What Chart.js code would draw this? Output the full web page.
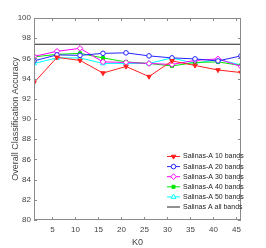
<!DOCTYPE html>
<html>
<head>
<meta charset="utf-8">
<script src="https://cdn.jsdelivr.net/npm/chart.js@4"></script>
<style>
  html, body { margin: 0; padding: 0; background: #fff; }
  #wrap { width: 266px; height: 248px; }
</style>
</head>
<body>
<div id="wrap"><canvas id="myChart" width="266" height="248"></canvas></div>
<script>
// valores
const k0 = [1, 6, 11, 16, 21, 26, 31, 36, 41, 46];
const bands10 = [93.6, 96.1, 95.8, 94.55, 95.2, 94.2, 95.75, 95.3, 94.85, 94.6];
const bands20 = [95.75, 96.35, 96.3, 96.5, 96.55, 96.25, 96.05, 95.95, 95.75, 96.25];
const bands30 = [96.2, 96.7, 97.0, 95.65, 95.6, 95.5, 95.4, 95.8, 95.95, 95.2];
const bands40 = [96.15, 96.4, 96.5, 96.05, 95.65, 95.5, 95.25, 95.6, 95.65, 95.3];
const bands50 = [95.5, 96.05, 96.05, 95.5, 95.5, 95.5, 96.05, 95.5, 95.9, 95.35];
const allBands = 97.4;
const legendas = ['Salinas-A 10 bands', 'Salinas-A 20 bands', 'Salinas-A 30 bands',
                  'Salinas-A 40 bands', 'Salinas-A 50 bands', 'Salinas A all bands'];
const xTicks = [5, 10, 15, 20, 25, 30, 35, 40, 45];
const yTicks = [80, 82, 84, 86, 88, 90, 92, 94, 96, 98, 100];

const fonte = "'Liberation Sans Narrow', 'Liberation Sans', Arial, sans-serif";

function pontos(vals) {
  return k0.map((x, i) => ({ x: x, y: vals[i] }));
}

// caixa + ticks para dentro (estilo matlab)
const caixa = {
  id: 'caixa',
  afterDatasetsDraw(chart) {
    const c = chart.ctx, a = chart.chartArea;
    const xs = chart.scales.x, ys = chart.scales.y;
    c.save();
    c.strokeStyle = '#8a8a8a';
    c.lineWidth = 1;
    c.strokeRect(a.left + 0.5, a.top + 0.5, a.right - a.left - 1, a.bottom - a.top - 1);
    c.beginPath();
    xTicks.forEach(v => {
      const p = Math.round(xs.getPixelForValue(v)) + 0.5;
      c.moveTo(p, a.bottom); c.lineTo(p, a.bottom - 3);
      c.moveTo(p, a.top); c.lineTo(p, a.top + 3);
    });
    yTicks.forEach(v => {
      const p = Math.round(ys.getPixelForValue(v)) + 0.5;
      c.moveTo(a.left, p); c.lineTo(a.left + 3, p);
      c.moveTo(a.right, p); c.lineTo(a.right - 3, p);
    });
    c.stroke();

    // legenda dentro do grafico
    const x0 = 167, x1 = 180;
    let y = 156;
    c.font = '7px ' + fonte;
    c.textBaseline = 'middle';
    chart.data.datasets.forEach(ds => {
      c.strokeStyle = ds.borderColor;
      c.lineWidth = 1;
      c.beginPath(); c.moveTo(x0, y + 0.5); c.lineTo(x1, y + 0.5); c.stroke();
      if (ds.pointRadius > 0) {
        c.fillStyle = ds.pointBackgroundColor;
        c.strokeStyle = ds.borderColor;
        Chart.helpers.drawPoint(c, {
          pointStyle: ds.pointStyle, rotation: ds.pointRotation || 0,
          radius: ds.pointRadius, borderWidth: 1
        }, (x0 + x1) / 2, y + 0.5);
      }
      c.fillStyle = '#222';
      c.fillText(ds.label, x1 + 3, y + 0.5);
      y += 10.1;
    });
    c.restore();
  }
};

const ctx = document.getElementById('myChart').getContext('2d');

const myChart = new Chart(ctx, {
  type: 'line',
  data: {
    datasets: [
      { label: legendas[0], data: pontos(bands10), borderColor: '#ff2020', backgroundColor: '#ff2020',
        pointBackgroundColor: '#ff2020', pointStyle: 'triangle', pointRotation: 180, pointRadius: 2.6 },
      { label: legendas[1], data: pontos(bands20), borderColor: '#2424ff', backgroundColor: '#ffffff',
        pointBackgroundColor: '#ffffff', pointStyle: 'circle', pointRadius: 2.3 },
      { label: legendas[2], data: pontos(bands30), borderColor: '#ff00ff', backgroundColor: '#ffffff',
        pointBackgroundColor: '#ffffff', pointStyle: 'rectRot', pointRadius: 2.8 },
      { label: legendas[3], data: pontos(bands40), borderColor: '#00e600', backgroundColor: '#00e600',
        pointBackgroundColor: '#00e600', pointStyle: 'rect', pointRadius: 2.2 },
      { label: legendas[4], data: pontos(bands50), borderColor: '#00ffff', backgroundColor: '#ffffff',
        pointBackgroundColor: '#ffffff', pointStyle: 'triangle', pointRadius: 2.8 },
      { label: legendas[5], data: [{ x: k0[0], y: allBands }, { x: k0[k0.length - 1], y: allBands }],
        borderColor: '#222222', backgroundColor: '#222222', pointRadius: 0, borderWidth: 1.2 }
    ]
  },
  options: {
    responsive: false,
    animation: false,
    devicePixelRatio: 1,
    layout: { padding: { left: 0, right: 25, top: 18, bottom: 0 } },
    elements: { line: { borderWidth: 1, tension: 0 }, point: { borderWidth: 1, hoverRadius: 3 } },
    plugins: { legend: { display: false }, tooltip: { enabled: false } },
    scales: {
      x: {
        type: 'linear', min: 1, max: 46,
        afterBuildTicks: s => { s.ticks = xTicks.map(v => ({ value: v })); },
        afterFit: s => { s.height = 28; },
        grid: { display: false, drawTicks: false },
        border: { display: false },
        ticks: { color: '#444', font: { family: fonte, size: 8 }, padding: 5, maxRotation: 0 },
        title: { display: true, text: 'K0', color: '#444', font: { family: fonte, size: 9 }, padding: { top: 1, bottom: 0 } }
      },
      y: {
        min: 80, max: 100,
        afterBuildTicks: s => { s.ticks = yTicks.map(v => ({ value: v })); },
        afterFit: s => { s.width = 34; },
        grid: { display: false, drawTicks: false },
        border: { display: false },
        ticks: { color: '#444', font: { family: fonte, size: 8 }, padding: 3 },
        title: { display: true, text: 'Overall Classification Accuracy', color: '#444',
                 font: { family: fonte, size: 9 }, padding: { top: 10, bottom: 0 } }
      }
    }
  },
  plugins: [caixa]
});
</script>
</body>
</html>
